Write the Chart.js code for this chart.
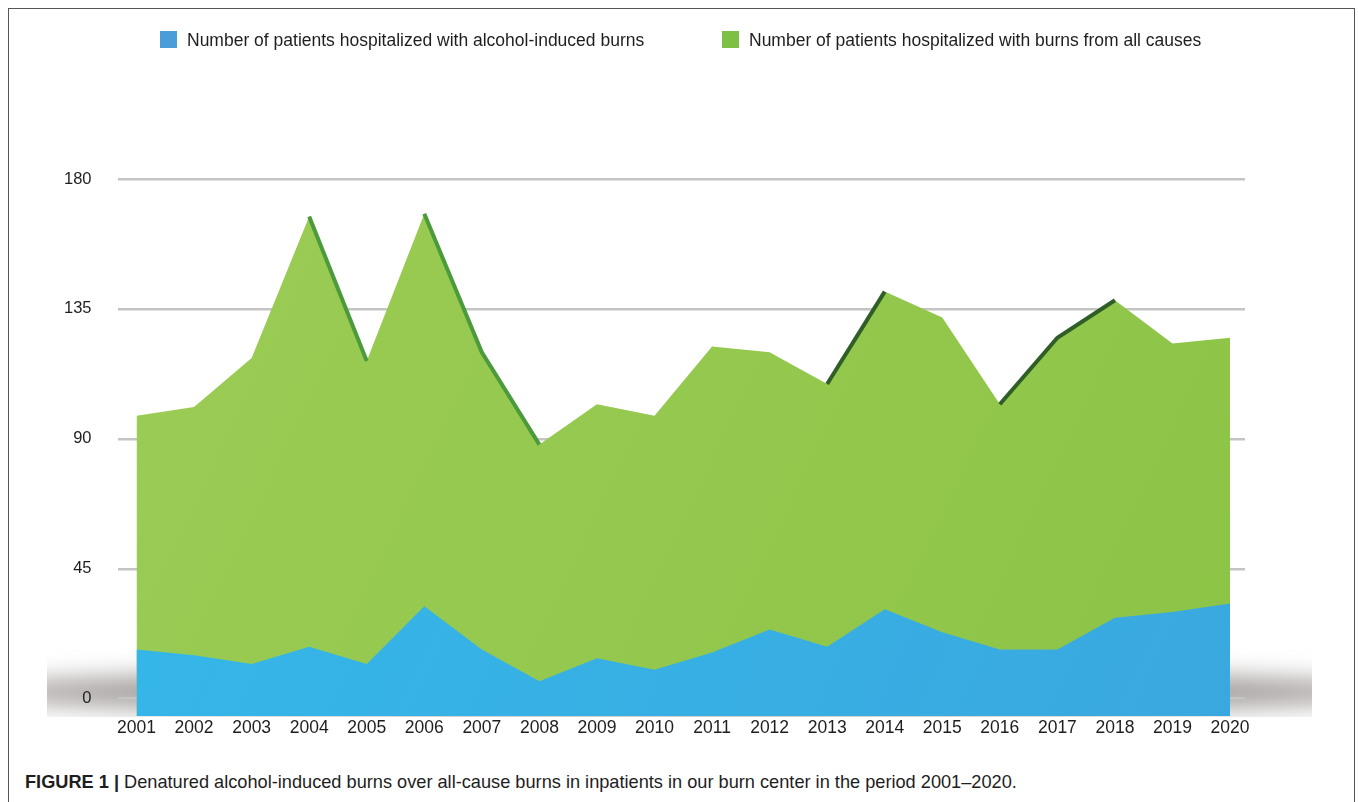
<!DOCTYPE html>
<html>
<head>
<meta charset="utf-8">
<script src="https://cdn.jsdelivr.net/npm/chart.js@4.4.1/dist/chart.umd.min.js"></script>
<style>
  html, body { margin: 0; padding: 0; background: #fff; }
  body { width: 1358px; height: 802px; position: relative; overflow: hidden;
         font-family: "Liberation Sans", Arial, sans-serif; color: #1e1e1e; }
  #frame { position: absolute; left: 8px; top: 8px; width: 1347px; height: 900px;
           border: 1.5px solid #555; box-sizing: border-box; }
  #wrap { position: absolute; left: 0; top: 0; width: 1358px; height: 760px; }
  #legend { position: absolute; top: 30px; left: 0; width: 1358px; height: 20px; }
  .item { position: absolute; top: 0; font-size: 17.5px; line-height: 20px; white-space: nowrap; }
  .item span.sw { position: absolute; left: 0; top: 1px; width: 17px; height: 17px; }
  .item span.tx { position: absolute; left: 27px; top: 0; }
  #caption { position: absolute; left: 25px; top: 772px; font-size: 18.2px; white-space: nowrap; }
  #caption b { font-weight: bold; }
</style>
</head>
<body>
<div id="frame"></div>
<div id="wrap"><canvas id="chart"></canvas></div>
<div id="legend"></div>
<div id="caption"><b>FIGURE 1 |</b> Denatured alcohol-induced burns over all-cause burns in inpatients in our burn center in the period 2001–2020.</div>
<script>
const years = [2001, 2002, 2003, 2004, 2005, 2006, 2007, 2008, 2009, 2010,
               2011, 2012, 2013, 2014, 2015, 2016, 2017, 2018, 2019, 2020];
const alcoholBurns = [17, 15, 12, 18, 12, 32, 17, 6, 14, 10,
                      16, 24, 18, 31, 23, 17, 17, 28, 30, 33];
const allCauseBurns = [98, 101, 118, 167, 117, 168, 120, 88, 102, 98,
                       122, 120, 109, 141, 132, 102, 125, 138, 123, 125];
const yTicks = [0, 45, 90, 135, 180];
const seriesNames = [
  'Number of patients hospitalized with alcohol-induced burns',
  'Number of patients hospitalized with burns from all causes'
];
const legendColors = ['#4a9dd8', '#7cc143'];

// legend as plain html, positions taken from the figure
const legendX = [160, 722];
const legend = document.getElementById('legend');
seriesNames.forEach((name, i) => {
  const it = document.createElement('div');
  it.className = 'item';
  it.style.left = legendX[i] + 'px';
  it.innerHTML = '<span class="sw" style="background:' + legendColors[i] + '"></span><span class="tx"></span>';
  it.querySelector('.tx').textContent = name;
  legend.appendChild(it);
});

function gradient(ctx, from, to) {
  const area = ctx.chart.chartArea;
  if (!area) return from;
  const g = ctx.chart.ctx.createLinearGradient(area.left, area.top, area.right, area.bottom);
  g.addColorStop(0, from);
  g.addColorStop(1, to);
  return g;
}

// soft floor shadow under the "3d" area
const floorShadow = {
  id: 'floorShadow',
  beforeDraw(chart) {
    const { ctx } = chart;
    ctx.save();
    ctx.beginPath();
    ctx.rect(47, 645, 1312 - 47, 717 - 645);
    ctx.clip();
    ctx.filter = 'blur(12px)';
    ctx.fillStyle = 'rgba(125,118,116,0.7)';
    ctx.beginPath();
    ctx.ellipse(684, 692, 720, 24, 0, 0, Math.PI * 2);
    ctx.fill();
    ctx.restore();
  }
};

// dark side-face on the steep edges, like the extruded look of the original
function edgeColor(seg) {
  const dy = seg.p1.parsed.y - seg.p0.parsed.y;
  const mid = (seg.p0DataIndex + seg.p1DataIndex) / 2;
  if (mid < 9.5 && dy < -12) return '#4b9a3c';
  if (mid > 9.5 && dy > 12) return '#2f5e27';
  return 'rgba(0,0,0,0)';
}

const points = vals => years.map((y, i) => ({ x: y, y: vals[i] }));

new Chart(document.getElementById('chart'), {
  type: 'line',
  data: {
    datasets: [
      {
        label: seriesNames[0],
        data: points(alcoholBurns),
        fill: 'start',
        backgroundColor: c => gradient(c, '#34b9ea', '#3aa8df'),
        borderWidth: 0,
        pointRadius: 0,
        tension: 0
      },
      {
        // edge strokes only, same all-cause values
        label: 'edge',
        data: points(allCauseBurns),
        fill: false,
        borderWidth: 4,
        borderColor: 'rgba(0,0,0,0)',
        segment: { borderColor: edgeColor },
        pointRadius: 0,
        tension: 0
      },
      {
        label: seriesNames[1],
        data: points(allCauseBurns),
        fill: 'start',
        backgroundColor: c => gradient(c, '#9ccc56', '#8cc446'),
        borderWidth: 0,
        pointRadius: 0,
        tension: 0
      }
    ]
  },
  options: {
    responsive: true,
    maintainAspectRatio: false,
    animation: false,
    events: [],
    layout: { padding: { left: 38, right: 113, top: 179, bottom: 19 } },
    plugins: {
      legend: { display: false },
      tooltip: { enabled: false }
    },
    scales: {
      x: {
        type: 'linear',
        min: 2000.67,
        max: 2020.26,
        afterBuildTicks: s => { s.ticks = years.map(v => ({ value: v })); },
        grid: { display: false, drawTicks: false },
        border: { display: false },
        ticks: {
          padding: 2,
          autoSkip: false,
          maxRotation: 0,
          color: '#1e1e1e',
          font: { family: '"Liberation Sans", Arial, sans-serif', size: 17.5 },
          callback: v => String(v)
        }
      },
      y: {
        min: -6,
        max: 180,
        afterBuildTicks: s => { s.ticks = yTicks.map(v => ({ value: v })); },
        grid: { color: '#c4c4c4', lineWidth: 2.5, drawTicks: false },
        border: { display: false },
        ticks: {
          padding: 26,
          color: '#1e1e1e',
          font: { family: '"Liberation Sans", Arial, sans-serif', size: 16.5 }
        }
      }
    }
  },
  plugins: [floorShadow]
});
</script>
</body>
</html>
